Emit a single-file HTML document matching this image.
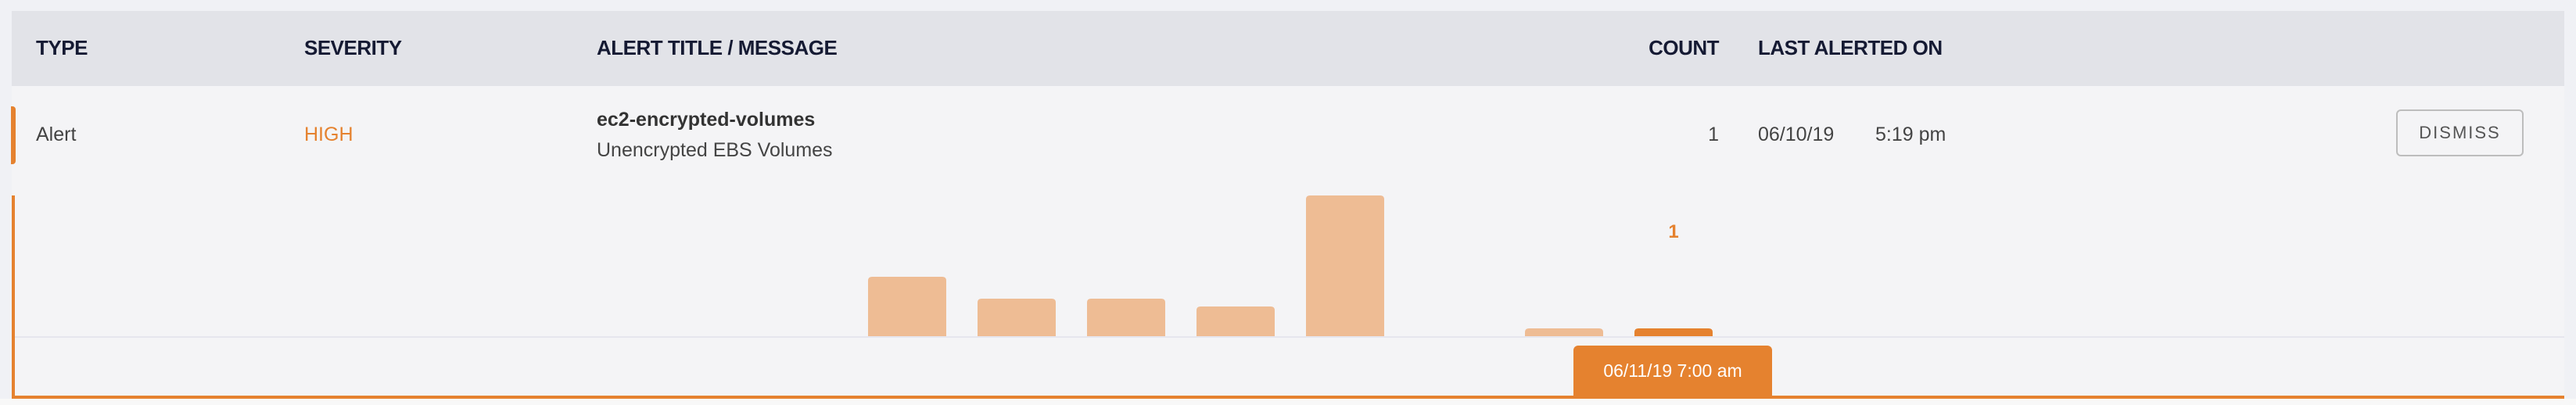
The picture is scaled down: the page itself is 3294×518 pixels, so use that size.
<!DOCTYPE html>
<html><head><meta charset="utf-8"><style>
body{margin:0;width:3294px;height:518px;background:#f0f1f5;font-family:"Liberation Sans",sans-serif;position:relative;overflow:hidden}
.a{position:absolute}
.h{font-weight:bold;font-size:26px;color:#151a33;top:46px;letter-spacing:-0.5px}
.c{font-size:25px;color:#444}
</style></head><body>
<div class="a" style="left:15px;top:14px;width:3264px;height:496px;background:#f4f4f6"></div>
<div class="a" style="left:15px;top:14px;width:3264px;height:96px;background:#e2e3e8"></div>
<div class="a h" style="left:46px">TYPE</div>
<div class="a h" style="left:389px">SEVERITY</div>
<div class="a h" style="left:763px">ALERT TITLE / MESSAGE</div>
<div class="a h" style="left:2098px;width:100px;text-align:right">COUNT</div>
<div class="a h" style="left:2248px">LAST ALERTED ON</div>
<div class="a" style="left:14px;top:136px;width:6px;height:74px;background:#e5822f;border-radius:0 4px 4px 0"></div>
<div class="a c" style="left:46px;top:158px">Alert</div>
<div class="a c" style="left:389px;top:158px;color:#e5822f">HIGH</div>
<div class="a c" style="left:763px;top:139px;font-weight:bold;color:#333">ec2-encrypted-volumes</div>
<div class="a c" style="left:763px;top:178px">Unencrypted EBS Volumes</div>
<div class="a c" style="left:2098px;top:158px;width:100px;text-align:right">1</div>
<div class="a c" style="left:2248px;top:158px">06/10/19</div>
<div class="a c" style="left:2398px;top:158px">5:19 pm</div>
<div class="a" style="left:3064px;top:140px;width:163px;height:60px;border:2px solid #bdbdbd;border-radius:6px;box-sizing:border-box;font-size:22px;color:#555;letter-spacing:2px;text-align:center;line-height:56px">DISMISS</div>
<div class="a" style="left:15px;top:250px;width:4px;height:260px;background:#e5822f"></div>
<div class="a" style="left:15px;top:506px;width:3264px;height:4px;background:#e5822f"></div>
<div class="a" style="left:0;top:510px;width:3294px;height:8px;background:#f8f8f8"></div>
<svg class="a" style="left:0;top:0" width="3294" height="518" id="chart"></svg>
<div class="a" style="left:2012px;top:442px;width:254px;height:64px;background:#e5822f;border-radius:6px 6px 0 0;color:#fff;font-size:23px;text-align:center;line-height:64px">06/11/19 7:00 am</div>
<script>
const categories=["b1","b2","b3","b4","b5","b6","b7","b8"];
const values=[7.6,4.8,4.8,3.8,18,0,1,1];
const highlight=[false,false,false,false,false,false,false,true];
const labels=["","","","","","","","1"];
const svg=document.getElementById('chart');
const NS='http://www.w3.org/2000/svg';
const base=430,maxH=180,maxV=18,x0=1110,pitch=140,bw=100;
const xs=i=>x0+i*pitch, hs=v=>v/maxV*maxH;
const bl=document.createElementNS(NS,'rect');
bl.setAttribute('x',19);bl.setAttribute('y',base);bl.setAttribute('width',3260);bl.setAttribute('height',2);bl.setAttribute('fill','#e6e6ee');


svg.appendChild(bl);
values.forEach((v,i)=>{
 const h=hs(v); if(h<=0)return;
 const r=document.createElementNS(NS,'path');
 const x=xs(i),y=base-h,rr=Math.min(5,h);
 r.setAttribute('d',`M${x},${base}V${y+rr}Q${x},${y} ${x+rr},${y}H${x+bw-rr}Q${x+bw},${y} ${x+bw},${y+rr}V${base}Z`);
 r.setAttribute('fill',highlight[i]?'#e5822f':'#eebc94');
 
 
 svg.appendChild(r);
 if(labels[i]){
  const t=document.createElementNS(NS,'text');
  t.setAttribute('x',x+bw/2);t.setAttribute('y',304);t.setAttribute('text-anchor','middle');
  t.setAttribute('font-size','24');t.setAttribute('font-weight','bold');t.setAttribute('fill','#e5822f');
  t.setAttribute('font-family','Liberation Sans, sans-serif');
  t.textContent=labels[i];
  
  
  svg.appendChild(t);
 }
});
</script>
</body></html>
